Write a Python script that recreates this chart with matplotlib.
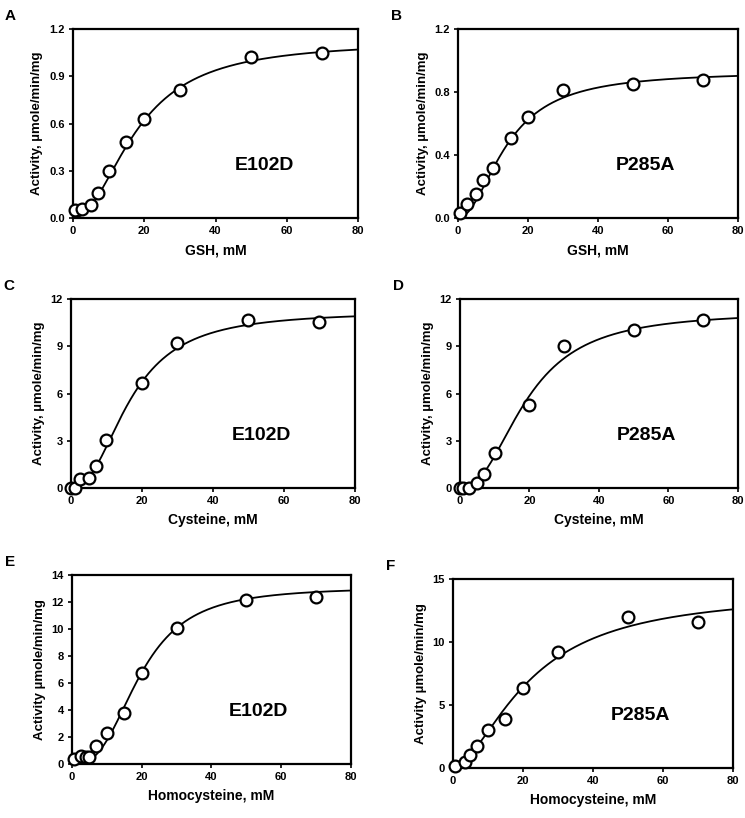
import numpy as np
import matplotlib.pyplot as plt

plt.rcParams['font.family'] = ['Liberation Sans', 'DejaVu Sans']
plt.rcParams['font.weight'] = 'bold'

gsh_x = [0.5, 2.5, 5, 7, 10, 15, 20, 30, 50, 70]
a_y = [0.05, 0.06, 0.08, 0.16, 0.30, 0.48, 0.63, 0.81, 1.02, 1.05]
b_y = [0.03, 0.09, 0.15, 0.24, 0.32, 0.51, 0.64, 0.81, 0.85, 0.875]

cys_x = [0, 1, 2.5, 5, 7, 10, 20, 30, 50, 70]
c_y = [0.0, 0.0, 0.57, 0.63, 1.37, 3.02, 6.65, 9.22, 10.65, 10.55]
d_y = [0.0, 0.0, 0.0, 0.32, 0.9, 2.2, 5.27, 9.0, 10.05, 10.7]

hcy_x = [0.5, 2.5, 4, 5, 7, 10, 15, 20, 30, 50, 70]
e_y = [0.35, 0.6, 0.55, 0.55, 1.3, 2.3, 3.8, 6.77, 10.1, 12.15, 12.4]
f_x = [0.7, 3.5, 5, 7, 10, 15, 20, 30, 50, 70]
f_y = [0.18, 0.45, 1.06, 1.77, 2.98, 3.9, 6.39, 9.19, 11.96, 11.6]

# Hill fit parameters (Vmax, K, n) estimated from the drawn curves
fits = {
    'A': (1.12, 18.0, 2.05),
    'B': (0.93, 14.0, 2.0),
    'C': (11.2, 16.7, 2.3),
    'D': (11.2, 19.2, 2.3),
    'E': (13.1, 19.5, 2.8),
    'F': (14.0, 22.0, 1.7),
}

panels = [
    # letter, x, y, mutant, xlabel, ylabel, yticks, ytick labels, rect
    ('A', gsh_x, a_y, 'E102D', 'GSH, mM', 'Activity, µmole/min/mg',
     [0, 0.3, 0.6, 0.9, 1.2], ['0.0', '0.3', '0.6', '0.9', '1.2'],
     [0.098, 0.7335, 0.3826, 0.231]),
    ('B', gsh_x, b_y, 'P285A', 'GSH, mM', 'Activity, µmole/min/mg',
     [0, 0.4, 0.8, 1.2], ['0.0', '0.4', '0.8', '1.2'],
     [0.6148, 0.7335, 0.3758, 0.231]),
    ('C', cys_x, c_y, 'E102D', 'Cysteine, mM', 'Activity, µmole/min/mg',
     [0, 3, 6, 9, 12], None, [0.0953, 0.4034, 0.381, 0.231]),
    ('D', cys_x, d_y, 'P285A', 'Cysteine, mM', 'Activity, µmole/min/mg',
     [0, 3, 6, 9, 12], None, [0.6174, 0.4034, 0.3732, 0.231]),
    ('E', hcy_x, e_y, 'E102D', 'Homocysteine, mM', 'Activity µmole/min/mg',
     [0, 2, 4, 6, 8, 10, 12, 14], None, [0.0966, 0.066, 0.3745, 0.231]),
    ('F', f_x, f_y, 'P285A', 'Homocysteine, mM', 'Activity µmole/min/mg',
     [0, 5, 10, 15], None, [0.608, 0.0611, 0.3758, 0.231]),
]

fig = plt.figure(figsize=(7.45, 8.18), dpi=100)

for letter, x, y, mutant, xlab, ylab, yt, ytl, rect in panels:
    ax = fig.add_axes(rect)
    vmax, k, n = fits[letter]
    xs = np.linspace(0, 80, 400)
    ax.plot(xs, vmax * xs**n / (k**n + xs**n), color='black', lw=1.3)
    ax.plot(x, y, 'o', ms=8.5, mfc='white', mec='black', mew=1.6, clip_on=False, zorder=3)
    ax.set_xlim(0, 80)
    ax.set_ylim(yt[0], yt[-1])
    ax.set_xticks([0, 20, 40, 60, 80])
    ax.set_yticks(yt)
    if ytl is not None:
        ax.set_yticklabels(ytl)
    ax.tick_params(direction='out', length=3, width=1.2, labelsize=8, pad=3)
    for lab in ax.get_xticklabels() + ax.get_yticklabels():
        lab.set_fontweight('bold')
    for sp in ax.spines.values():
        sp.set_linewidth(1.6)
    ax.set_xlabel(xlab, fontsize=10, fontweight='bold', labelpad=5)
    ax.set_ylabel(ylab, fontsize=9.5, fontweight='bold', labelpad=4)
    ax.text(0.67, 0.28, mutant, transform=ax.transAxes, ha='center', va='center',
            fontsize=14, fontweight='bold')
    ax.text(-0.24, 1.07, letter, transform=ax.transAxes, ha='left', va='center',
            fontsize=11, fontweight='bold')

fig.savefig('out.png', dpi=100)
